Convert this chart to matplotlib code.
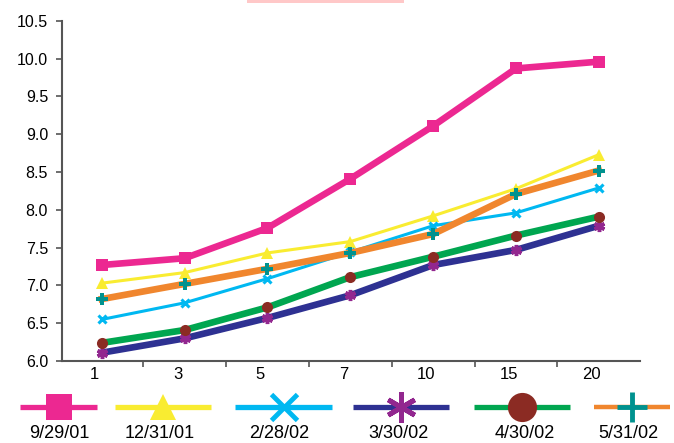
"""Line chart: six dated series over seven categories."""
import matplotlib.pyplot as plt
import matplotlib.transforms as mtransforms
from matplotlib.lines import Line2D
from matplotlib.patches import Rectangle

plt.rcParams['font.family'] = ['Liberation Sans', 'DejaVu Sans']

# Data.
categories = ["1", "3", "5", "7", "10", "15", "20"]
labels = ["9/29/01", "12/31/01", "2/28/02", "3/30/02", "4/30/02", "5/31/02"]
s_092901 = [7.27, 7.36, 7.76, 8.41, 9.11, 9.87, 9.96]
s_123101 = [7.03, 7.17, 7.43, 7.58, 7.92, 8.28, 8.73]
s_022802 = [6.55, 6.77, 7.09, 7.44, 7.79, 7.96, 8.29]
s_033002 = [6.11, 6.30, 6.57, 6.87, 7.27, 7.47, 7.79]
s_043002 = [6.24, 6.41, 6.71, 7.11, 7.38, 7.66, 7.91]
s_053102 = [6.82, 7.02, 7.22, 7.43, 7.68, 8.21, 8.52]
yticks = [6.0, 6.5, 7.0, 7.5, 8.0, 8.5, 9.0, 9.5, 10.0, 10.5]

# Style per series: line colour, width, marker, marker colour, size.
styles = [
    dict(color='#ec2891', lw=4.8, marker='s', mc='#ec2891', ms=8, mew=0),
    dict(color='#f9ec31', lw=2.2, marker='^', mc='#f9ec31', ms=8, mew=0),
    dict(color='#00b8f1', lw=2.2, marker='x', mc='#00b8f1', ms=6, mew=2.2),
    dict(color='#2e3192', lw=4.8, marker=(6, 2, 0), mc='#92278f', ms=8, mew=2.5),
    dict(color='#00a650', lw=4.8, marker='o', mc='#8b2b23', ms=8, mew=0),
    dict(color='#f0862e', lw=4.8, marker='P', mc='#00928f', ms=8, mew=0),
]
series = [s_092901, s_123101, s_022802, s_033002, s_043002, s_053102]
draw_order = [4, 3, 2, 5, 1, 0]

fig = plt.figure(figsize=[6.74, 4.43], dpi=100)
ax = fig.add_axes([0.092, 0.185, 0.858, 0.768])
xs = list(range(len(categories)))
for i in draw_order:
    st = styles[i]
    ax.plot(xs, series[i], color=st['color'], lw=st['lw'], marker=st['marker'],
            markersize=st['ms'], markerfacecolor=st['mc'],
            markeredgecolor=st['mc'], markeredgewidth=st['mew'],
            solid_joinstyle='miter', zorder=2 + i)

ax.set_xlim(-0.48, 6.5)
ax.set_ylim(6.0, 10.5)
ax.set_yticks(yticks)
ax.set_yticklabels([f"{v:.1f}" for v in yticks])
ax.set_xticks(xs)
ax.set_xticklabels(categories)
ax.set_xticks([i + 0.5 for i in range(6)], minor=True)
ax.tick_params(axis='x', which='major', length=0, labelsize=12, pad=4)
ax.tick_params(axis='x', which='minor', length=4, width=1.2, color='#555555',
               direction='out')
ax.tick_params(axis='y', length=4, width=1.2, color='#555555',
               labelsize=11.5, pad=6)
# Category labels sit a little left of the points.
offset = mtransforms.ScaledTranslation(-7 / 100, 0, fig.dpi_scale_trans)
for lab in ax.get_xticklabels():
    lab.set_transform(lab.get_transform() + offset)
for side in ['top', 'right']:
    ax.spines[side].set_visible(False)
for side in ['left', 'bottom']:
    ax.spines[side].set_color('#555555')
    ax.spines[side].set_linewidth(1.5)

# Faint box at the top edge.
fig.patches.append(Rectangle((247 / 674, 1 - 3 / 443), 157 / 674, 3 / 443,
                             transform=fig.transFigure, facecolor='#ffc8c8',
                             edgecolor='none'))

# Legend: handle line with marker, label underneath.
handle_x = [(20, 97), (115, 211), (235, 332), (353, 449), (474, 570), (594, 670)]
label_x = [59, 160, 279, 398, 525, 628]
leg_ms = [19, 19, 19, 22, 21, 22]
leg_mew = [0, 0, 3.5, 3.5, 0, 3.5]
leg_markers = ['s', '^', 'x', (6, 2, 0), 'o', '+']
hy = 1 - 407 / 443
for i, lab in enumerate(labels):
    st = styles[i]
    x0, x1 = handle_x[i]
    cx = (x0 + x1) / 2 / 674
    fig.add_artist(Line2D([x0 / 674, x1 / 674], [hy, hy],
                          transform=fig.transFigure, color=st['color'],
                          lw=3.8 if i != 5 else 3.2, solid_capstyle='butt'))
    fig.add_artist(Line2D([cx], [hy], transform=fig.transFigure,
                          marker=leg_markers[i], markersize=leg_ms[i],
                          markerfacecolor=st['mc'], markeredgecolor=st['mc'],
                          markeredgewidth=leg_mew[i], linestyle='none'))
    fig.text(label_x[i] / 674, 1 - 438 / 443, lab, ha='center',
             va='baseline', fontsize=13)

fig.savefig('out.png', dpi=100)
